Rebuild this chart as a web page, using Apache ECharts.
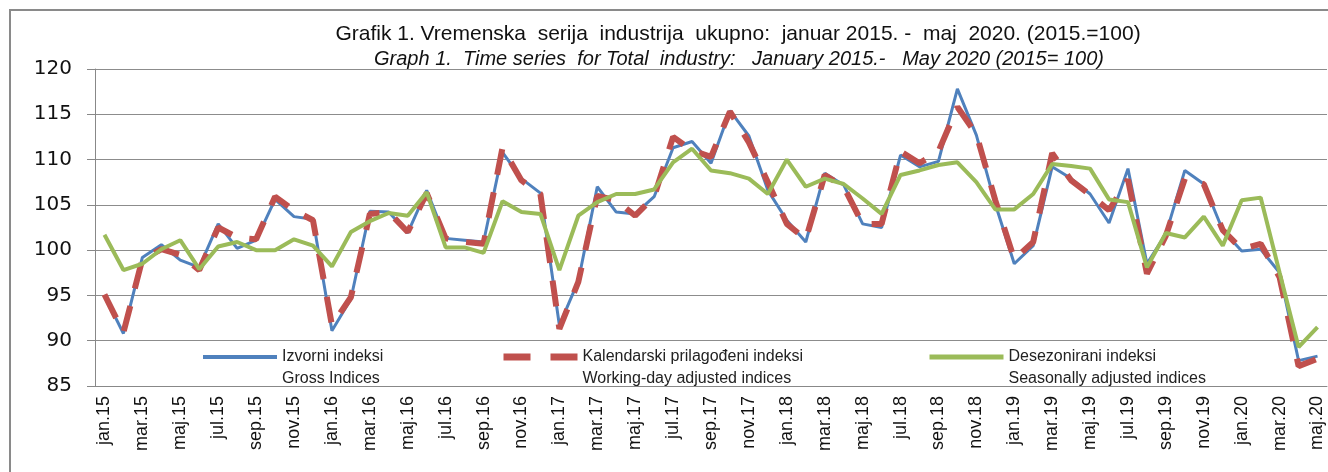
<!DOCTYPE html>
<html>

<head>
  <meta charset="UTF-8">
  <title>Grafik 1</title>
  <script src="https://cdn.jsdelivr.net/npm/echarts@6/dist/echarts.min.js"></script>
  <style>
    html,
    body {
      margin: 0;
      padding: 0;
      background: #fff;
    }

    #chart {
      width: 1328px;
      height: 472px;
    }
  </style>
</head>

<body>
  <div id="chart"></div>
  <script>
    // kategorije: mjeseci jan.15 - maj.20
    const monthNames = ['jan', 'feb', 'mar', 'apr', 'maj', 'jun', 'jul', 'avg', 'sep', 'okt', 'nov', 'dec'];
    const years = ['15', '16', '17', '18', '19', '20'];
    const monthCount = 65;

    const yTicks = { min: 85, max: 120, step: 5 };

    // Izvorni indeksi / Gross Indices
    const gross = [
      95.0, 90.8, 99.2, 100.6, 98.9, 98.1, 102.9, 100.2, 101.1, 105.6, 103.7, 103.4,
      91.1, 94.6, 104.3, 104.2, 101.9, 106.6, 101.3, 101.1, 100.9, 110.8, 107.9, 106.3,
      91.7, 96.6, 107.0, 104.2, 104.0, 105.9, 111.3, 112.0, 109.6, 115.4, 112.6, 106.6,
      103.3, 100.9, 108.5, 107.2, 102.9, 102.5, 110.5, 109.2, 109.8, 117.8, 112.7, 105.1,
      98.5, 100.5, 109.2, 107.9, 106.2, 103.0, 109.0, 98.5, 101.8, 108.8, 107.3, 102.2,
      99.9, 100.1, 97.5, 87.8, 88.3
    ];

    // Kalendarski prilagođeni indeksi / Working-day adjusted indices
    const workingDay = [
      95.1, 90.9, 99.0, 100.1, 99.5, 97.8, 102.5, 101.4, 101.2, 105.9, 104.4, 103.3,
      91.7, 94.8, 104.0, 104.2, 102.0, 106.3, 101.3, 100.9, 100.7, 111.3, 107.7, 106.2,
      91.3, 96.5, 106.0, 105.5, 103.8, 105.9, 112.5, 111.0, 110.3, 115.3, 111.9, 107.5,
      102.9, 101.2, 108.3, 107.0, 102.9, 102.9, 110.9, 109.6, 110.9, 115.8, 112.8, 105.5,
      99.0, 100.9, 110.7, 107.7, 106.1, 104.4, 107.8, 97.4, 101.6, 107.9, 107.3, 102.2,
      100.1, 100.7, 97.0, 87.2, 88.0
    ];

    // Desezonirani indeksi / Seasonally adjusted indices
    const seasonal = [
      101.7, 97.8, 98.5, 100.1, 101.1, 97.9, 100.4, 100.9, 100.0, 100.0, 101.2, 100.5,
      98.2, 102.0, 103.2, 104.1, 103.8, 106.4, 100.3, 100.3, 99.7, 105.4, 104.2, 104.0,
      97.8, 103.8, 105.3, 106.2, 106.2, 106.7, 109.7, 111.2, 108.8, 108.5, 107.9, 106.2,
      110.0, 107.0, 107.9, 107.3, 105.7, 104.0, 108.3, 108.8, 109.4, 109.7, 107.5, 104.5,
      104.5, 106.2, 109.5, 109.3, 109.0, 105.6, 105.3, 98.1, 101.9, 101.4, 103.7, 100.5,
      105.5, 105.8, 97.5, 89.3, 91.5
    ];

    const seriesNames = [
      'Izvorni indeksi\nGross Indices',
      'Kalendarski prilagođeni indeksi\nWorking-day adjusted indices',
      'Desezonirani indeksi\nSeasonally adjusted indices'
    ];

    const categories = [];
    for (let i = 0; i < monthCount; i++) {
      categories.push(monthNames[i % 12] + '.' + years[Math.floor(i / 12)]);
    }

    const textFont = '"Liberation Sans", Arial, sans-serif';
    const colors = ['#4f81bd', '#c0504d', '#9bbb59'];

    // jedna legenda po seriji, tekst u dva reda, linija uz prvi red
    function legendFor(idx, left, line) {
      return {
        data: [seriesNames[idx]],
        left: left,
        top: 324,
        padding: 0,
        itemWidth: 74,
        itemHeight: 12,
        selectedMode: false,
        formatter: function (name) {
          return ' \n' + name;
        },
        itemStyle: { opacity: 0 },
        lineStyle: line,
        textStyle: {
          fontFamily: textFont,
          fontSize: 16,
          lineHeight: 22,
          color: '#222'
        }
      };
    }

    const chart = echarts.init(document.getElementById('chart'));

    chart.setOption({
      animation: false,
      backgroundColor: '#fff',
      title: [{
        text: 'Grafik 1. Vremenska  serija  industrija  ukupno:  januar 2015. -  maj  2020. (2015.=100)',
        left: 733,
        top: 19,
        textAlign: 'center',
        textStyle: { fontFamily: textFont, fontSize: 21, fontWeight: 'normal', color: '#111' }
      }, {
        text: 'Graph 1.  Time series  for Total  industry:   January 2015.-   May 2020 (2015= 100)',
        left: 734,
        top: 44,
        textAlign: 'center',
        textStyle: { fontFamily: textFont, fontSize: 20, fontStyle: 'italic', fontWeight: 'normal', color: '#111' }
      }],
      graphic: [{
        type: 'rect',
        shape: { x: 10, y: 10, width: 1340, height: 480 },
        style: { fill: 'none', stroke: '#8a8a8a', lineWidth: 2 },
        silent: true
      }],
      legend: [
        legendFor(0, 201, { color: colors[0], width: 4, type: 'solid' }),
        legendFor(1, 500, { color: colors[1], width: 7, type: [27, 20] }),
        legendFor(2, 927, { color: colors[2], width: 5, type: 'solid' })
      ],
      grid: { left: 95, right: 1, top: 69, bottom: 86 },
      xAxis: {
        type: 'category',
        data: categories,
        boundaryGap: true,
        axisLine: { lineStyle: { color: '#888', width: 1 } },
        axisTick: { interval: 1, length: 6, lineStyle: { color: '#888' } },
        axisLabel: {
          interval: 1,
          rotate: 90,
          margin: 10,
          fontFamily: textFont,
          fontSize: 18,
          color: '#111'
        },
        splitLine: { show: false }
      },
      yAxis: {
        type: 'value',
        min: yTicks.min,
        max: yTicks.max,
        interval: yTicks.step,
        axisLine: { show: true, lineStyle: { color: '#888', width: 1 } },
        axisTick: { show: true, length: 8, lineStyle: { color: '#888' } },
        axisLabel: {
          margin: 23,
          fontFamily: '"DejaVu Sans", Verdana, sans-serif',
          fontSize: 20,
          color: '#111'
        },
        splitLine: { lineStyle: { color: '#8c8c8c', width: 1 } }
      },
      series: [{
        name: seriesNames[0],
        type: 'line',
        data: gross,
        symbol: 'none',
        color: colors[0],
        lineStyle: { color: colors[0], width: 3 },
        z: 2
      }, {
        name: seriesNames[1],
        type: 'line',
        data: workingDay,
        symbol: 'none',
        color: colors[1],
        lineStyle: { color: colors[1], width: 6, type: [26, 18] },
        z: 3
      }, {
        name: seriesNames[2],
        type: 'line',
        data: seasonal,
        symbol: 'none',
        color: colors[2],
        lineStyle: { color: colors[2], width: 4 },
        z: 4
      }]
    });
  </script>
</body>

</html>
